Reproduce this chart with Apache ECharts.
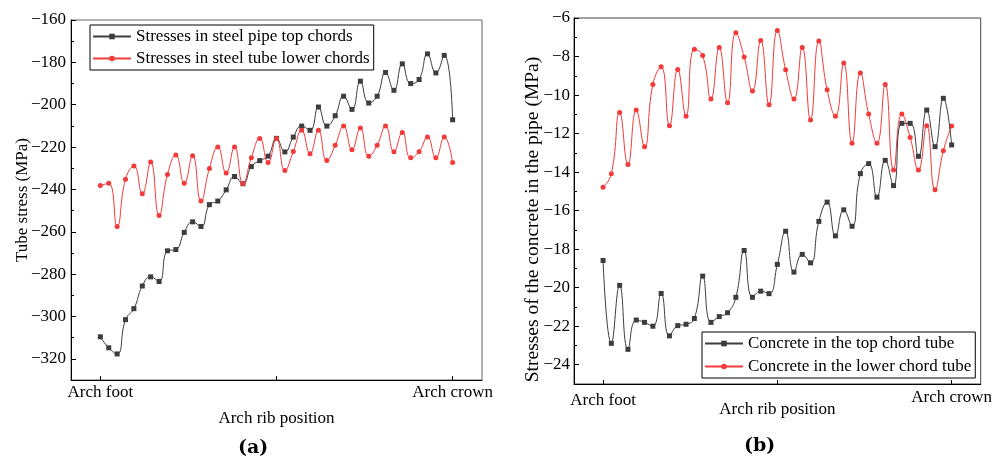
<!DOCTYPE html>
<html>
<head>
<meta charset="utf-8">
<script src="https://cdn.jsdelivr.net/npm/echarts@6/dist/echarts.min.js"></script>
<style>
html,body{margin:0;padding:0;background:#fff;}
#c{width:995px;height:457px;}
</style>
</head>
<body>
<div id="c"></div>
<script>
// ---- data ----
const xTickLabels = ['Arch foot', 'Arch crown'];
const xTickPos = [0, 42];
const xMidTick = 21;

const steelTop = [-309.6,-314.8,-317.7,-301.5,-296.3,-285.6,-281.3,-283.5,-269.0,-268.4,
  -260.3,-255.3,-257.5,-247.2,-245.5,-240.2,-233.9,-237.3,-229.2,-226.4,
  -224.3,-215.9,-222.3,-215.3,-210.1,-212.1,-201.1,-210.1,-205.2,-196.0,
  -202.2,-188.9,-199.2,-196.0,-184.8,-193.2,-180.7,-190.0,-188.1,-176.0,
  -185.0,-176.7,-207.1];
const steelLower = [-238.2,-237.1,-257.5,-235.2,-229.0,-242.1,-227.1,-252.3,-233.0,-223.8,
  -237.1,-224.1,-245.5,-230.1,-220.0,-232.2,-220.0,-237.3,-225.1,-215.9,
  -227.3,-215.9,-231.1,-222.1,-212.1,-223.2,-212.1,-226.4,-219.2,-210.1,
  -221.3,-211.0,-224.3,-219.2,-210.1,-222.2,-213.1,-225.1,-222.2,-215.3,
  -225.1,-215.3,-227.3];
const concreteTop = [-18.59,-22.89,-19.88,-23.2,-21.68,-21.8,-22.0,-20.3,-22.5,-21.97,
  -21.9,-21.6,-19.4,-21.8,-21.5,-21.3,-20.5,-18.07,-20.5,-20.18,
  -20.31,-18.79,-17.07,-19.19,-18.27,-18.71,-16.56,-15.56,-17.31,-15.96,
  -16.81,-14.08,-13.56,-15.3,-13.39,-14.7,-11.47,-11.47,-13.18,-10.78,
  -12.68,-10.17,-12.59];
const concreteLower = [-14.79,-14.09,-10.9,-13.6,-10.78,-12.68,-9.45,-8.53,-11.6,-8.67,
  -11.1,-7.62,-7.95,-10.21,-7.53,-10.4,-6.76,-8.02,-9.79,-7.17,
  -10.5,-6.65,-8.69,-10.21,-7.53,-11.3,-7.2,-9.73,-11.1,-8.34,
  -12.5,-8.86,-10.99,-12.5,-9.45,-13.89,-10.99,-12.2,-13.89,-11.59,
  -14.92,-12.89,-11.61];

const yTicksA = [-320,-300,-280,-260,-240,-220,-200,-180,-160];
const yMinorA = [-330,-310,-290,-270,-250,-230,-210,-190,-170];
const yTicksB = [-24,-22,-20,-18,-16,-14,-12,-10,-8,-6];
const yMinorB = [-25,-23,-21,-19,-17,-15,-13,-11,-9,-7];

const names = [
  'Stresses in steel pipe top chords',
  'Stresses in steel tube lower chords',
  'Concrete in the top chord tube',
  'Concrete in the lower chord tube'
];
const yNameA = 'Tube stress (MPa)';
const yNameB = 'Stresses of the concrete in the pipe (MPa)';
const xName = 'Arch rib position';

// ---- chart ----
const FONT = '"Liberation Serif", "Times New Roman", serif';
const FS = 17;
const BLACK = '#3d3d3d';
const RED = '#f23a3a';
const pairs = arr => arr.map((v, i) => [i, v]);
const minus = v => String(v).replace('-', '\u2212');

function xAxis(gridIndex, nameGap, labelMargin, footPad) {
  const base = {fontFamily: FONT, fontSize: FS, color: '#000'};
  return {
    type: 'value', gridIndex, min: -3.5, max: 45.5,
    name: xName, nameLocation: 'middle', nameGap, nameMoveOverlap: false,
    nameTextStyle: {fontFamily: FONT, fontSize: FS, color: '#000'},
    axisLine: {show: true, onZero: false, lineStyle: {color: '#000', width: 1}},
    axisTick: {show: true, inside: true, length: 4, customValues: [xTickPos[0], xMidTick, xTickPos[1]], lineStyle: {color: '#000'}},
    axisLabel: {
      customValues: xTickPos, margin: labelMargin,
      fontFamily: FONT, fontSize: FS, color: '#000',
      formatter: v => v === xTickPos[0] ? '{f|' + xTickLabels[0] + '}' : '{c|' + xTickLabels[1] + '}',
      rich: {
        f: Object.assign({padding: [footPad, 0, 0, 0]}, base),
        c: Object.assign({}, base)
      }
    },
    splitLine: {show: false}
  };
}
function yAxisMain(gridIndex, min, max, ticks, name, gap, margin) {
  return {
    type: 'value', gridIndex, min, max, position: 'left',
    name, nameLocation: 'middle', nameGap: gap, nameMoveOverlap: false,
    nameTextStyle: {fontFamily: FONT, fontSize: FS, color: '#000'},
    axisLine: {show: true, onZero: false, lineStyle: {color: '#000', width: 1}},
    axisTick: {show: true, inside: true, length: 5, customValues: ticks, lineStyle: {color: '#000'}},
    axisLabel: {customValues: ticks, fontFamily: FONT, fontSize: FS, color: '#000', margin, formatter: minus},
    splitLine: {show: false}
  };
}
function yAxisMinor(gridIndex, min, max, ticks) {
  return {
    type: 'value', gridIndex, min, max, position: 'left',
    axisLine: {show: false, onZero: false},
    axisTick: {show: true, inside: true, length: 3, customValues: ticks, lineStyle: {color: '#000'}},
    axisLabel: {show: false},
    splitLine: {show: false}
  };
}
function line(name, data, color, symbol, xi, yi, z) {
  return {
    type: 'line', name, data: pairs(data), xAxisIndex: xi, yAxisIndex: yi,
    smooth: 0.5, symbol, symbolSize: 5, showSymbol: true, z,
    lineStyle: {color, width: 1}, itemStyle: {color}, emphasis: {disabled: true}
  };
}
function legend(data, left, top, itemGap) {
  return {data, orient: 'vertical', left, top,
    padding: [3, 4, 3, 2], itemGap, itemWidth: 38, itemHeight: 7,
    borderColor: '#000', borderWidth: 1, borderRadius: 0, backgroundColor: '#fff',
    textStyle: {fontFamily: FONT, fontSize: FS, color: '#000'}, selectedMode: false};
}

const chart = echarts.init(document.getElementById('c'), null, {renderer: 'canvas'});
chart.setOption({
  animation: false,
  backgroundColor: '#fff',
  grid: [
    {left: 71, right: 513, top: 20, bottom: 77, show: true, borderColor: '#666', borderWidth: 1, backgroundColor: 'transparent'},
    {left: 574, right: 3, top: 18, bottom: 73, show: true, borderColor: '#444', borderWidth: 1, backgroundColor: 'transparent'}
  ],
  xAxis: [xAxis(0, 30, 4, 0), xAxis(1, 17, 5, 3)],
  yAxis: [
    yAxisMain(0, -330, -160, yTicksA, yNameA, 40, 5),
    yAxisMinor(0, -330, -160, yMinorA),
    yAxisMain(1, -25, -6, yTicksB, '', 30, 4),
    yAxisMinor(1, -25, -6, yMinorB)
  ],
  legend: [
    legend([names[0], names[1]], 90, 25, 5),
    legend([names[2], names[3]], 702, 332, 6)
  ],
  series: [
    line(names[0], steelTop, BLACK, 'rect', 0, 0, 2),
    line(names[1], steelLower, RED, 'circle', 0, 0, 3),
    line(names[2], concreteTop, BLACK, 'rect', 1, 2, 3),
    line(names[3], concreteLower, RED, 'circle', 1, 2, 2)
  ],
  graphic: [
    {type: 'text', x: 533, y: 219.5, rotation: Math.PI / 2,
     style: {text: yNameB, font: '19.5px ' + FONT, fill: '#000', align: 'center', verticalAlign: 'middle'}},
    {type: 'text', left: 238, top: 439, style: {text: '(a)', font: 'bold 19px "DejaVu Serif", serif', fill: '#000'}},
    {type: 'text', left: 744, top: 437, style: {text: '(b)', font: 'bold 19px "DejaVu Serif", serif', fill: '#000'}}
  ]
});
</script>
</body>
</html>
